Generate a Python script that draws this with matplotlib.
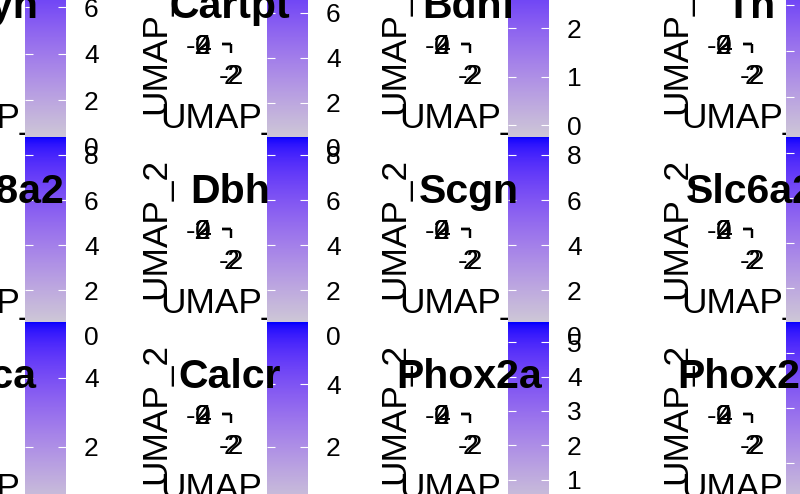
import numpy as np
import matplotlib.pyplot as plt
from matplotlib.colors import ListedColormap

plt.rcParams['font.family'] = ['Liberation Sans', 'DejaVu Sans']
plt.rcParams['axes.unicode_minus'] = False

# gene per facet (rows x columns, left column cropped in the reference)
genes = [["Pdyn", "Cartpt", "Bdnf", "Th"],
         ["Slc18a2", "Dbh", "Scgn", "Slc6a2"],
         ["Snca", "Calcr", "Phox2a", "Phox2b"]]
# colour bar limits per facet
expr_max = [[8.37, 8.71, 3.57, 8.3],
            [8.8, 8.8, 8.8, 8.7],
            [5.62, 5.97, 5.58, 3.56]]
expr_min = [[-0.15, -0.09, -0.51, -0.31],
            [0.0, 0.0, 0.0, -0.1],
            [-0.12, -0.32, -0.16, -0.04]]
tick_step = [[2, 2, 1, 2],
             [2, 2, 2, 2],
             [2, 2, 1, 1]]
umap1_ticks = [-2, 2]
umap2_ticks = [-2, 0, 2, 4]

W, H = 800, 494
row_top = [-48, 137, 322]
panel_x = [-12, 230, 469, 751]
bar_x = [25, 267, 508, 786]
bar_w, bar_h = 41, 198

# lightgrey -> blue, interpolated in CIELAB like ggplot
M = np.array([[0.4124564, 0.3575761, 0.1804375],
              [0.2126729, 0.7151522, 0.0721750],
              [0.0193339, 0.1191920, 0.9503041]])
WHITE = M @ np.ones(3)


def to_lab(rgb):
    c = np.asarray(rgb, float)
    lin = np.where(c <= 0.04045, c / 12.92, ((c + 0.055) / 1.055) ** 2.4)
    xyz = M @ lin / WHITE
    f = np.where(xyz > 216 / 24389, np.cbrt(xyz), (24389 / 27 * xyz + 16) / 116)
    return np.array([116 * f[1] - 16, 500 * (f[0] - f[1]), 200 * (f[1] - f[2])])


def from_lab(lab):
    L, a, b = lab
    fy = (L + 16) / 116
    f = np.array([fy + a / 500, fy, fy - b / 200])
    xyz = np.where(f ** 3 > 216 / 24389, f ** 3, (116 * f - 16) / (24389 / 27)) * WHITE
    lin = np.linalg.solve(M, xyz)
    c = np.where(lin <= 0.0031308, 12.92 * lin, 1.055 * np.clip(lin, 0, None) ** (1 / 2.4) - 0.055)
    return np.clip(c, 0, 1)


low, high = to_lab([211 / 255] * 3), to_lab([0, 0, 1])
cmap = ListedColormap([from_lab(low + t * (high - low)) for t in np.linspace(0, 1, 256)])

fig = plt.figure(figsize=(8, 4.94), dpi=100)

for r in range(3):
    for c in range(4):
        # collapsed umap panel
        ax = fig.add_axes([(panel_x[c] + 1) / W, 1 - (row_top[r] + 92) / H, 0.4 / W, 0.4 / H], zorder=1)
        ax.set_xlim(-3, 3)
        ax.set_ylim(-3, 5)
        ax.set_xticks(umap1_ticks)
        ax.set_yticks(umap2_ticks)
        for s in ax.spines.values():
            s.set_visible(False)
        ax.patch.set_visible(False)
        ax.tick_params(length=6.5, width=1.6, pad=8, labelsize=20.5)
        ax.set_xlabel("UMAP_1", fontsize=25.4, labelpad=8.5)
        ax.set_ylabel("UMAP_2", fontsize=25.4, labelpad=9.4)

        # colour bar
        lo, hi = expr_min[r][c], expr_max[r][c]
        cax = fig.add_axes([bar_x[c] / W, 1 - (row_top[r] + bar_h) / H, bar_w / W, bar_h / H],
                           zorder=2 + 0.1 * r)
        grad = np.linspace(lo, hi, 300).reshape(-1, 1)
        cax.imshow(grad, cmap=cmap, aspect='auto', origin='lower',
                   extent=[0, 1, lo, hi], vmin=lo, vmax=hi)
        ticks = np.arange(0, hi + 1e-9, tick_step[r][c])
        cax.set_yticks(ticks)
        cax.set_yticklabels([f"{t:g}" for t in ticks])
        cax.set_xticks([])
        cax.set_ylim(lo, hi)
        for s in cax.spines.values():
            s.set_visible(False)
        cax.tick_params(axis='y', direction='in', length=5.8, width=0.8, color='white',
                        left=True, right=True, labelleft=False, labelright=True,
                        pad=13, labelsize=19)

        fig.text(panel_x[c] / W, 1 - (row_top[r] + 66) / H, genes[r][c], ha='center',
                 va='baseline', fontsize=29.5, fontweight='bold', zorder=10)

fig.savefig("out.png", dpi=100)
